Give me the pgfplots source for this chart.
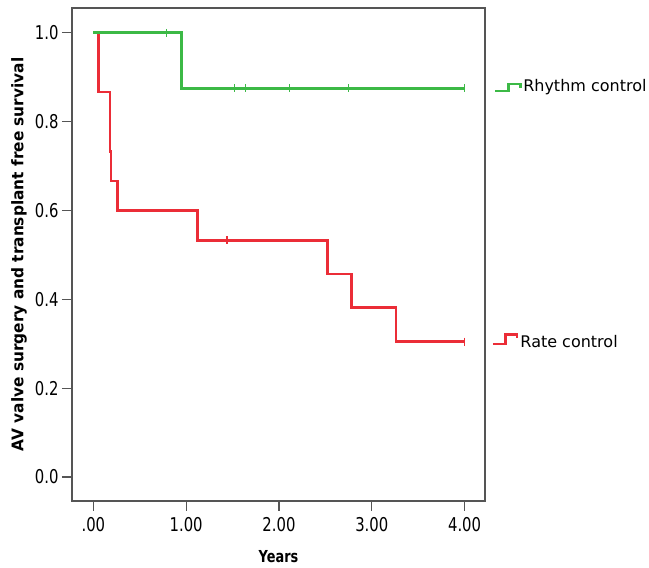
\documentclass[border=0pt]{standalone}
\usepackage{fontspec}
\setmainfont{DejaVu Sans}
\newfontfamily\tickf[FakeStretch=0.78]{DejaVu Sans}
\newfontfamily\ylabf[FakeStretch=0.96]{DejaVu Sans}
\newfontfamily\xlabf[FakeStretch=0.78]{DejaVu Sans}
\newfontfamily\legf{DejaVu Sans}
\usepackage{pgfplots}
\pgfplotsset{compat=1.18}
\definecolor{kmgreen}{RGB}{60,185,70}
\definecolor{kmred}{RGB}{235,45,55}
\definecolor{axgray}{RGB}{85,85,85}
\begin{document}
\begin{tikzpicture}
\path[use as bounding box] (-72pt,-67pt) rectangle (577pt,501pt);
\begin{axis}[
  at={(0,0)}, anchor=south west,
  scale only axis, width=413pt, height=493pt,
  xmin=-0.23, xmax=4.22, ymin=-0.054, ymax=1.056,
  axis line style={axgray, line width=1.2pt},
  xtick={0,1,2,3,4}, xticklabels={.00,1.00,2.00,3.00,4.00},
  ytick={0,0.2,0.4,0.6,0.8,1.0}, yticklabels={0.0,0.2,0.4,0.6,0.8,1.0},
  xtick pos=bottom, ytick pos=left, tick align=outside,
  major tick length=10pt,
  tick style={axgray, line width=1.2pt},
  xticklabel style={font=\tickf\fontsize{19}{19}\selectfont, yshift=-3pt},
  yticklabel style={font=\tickf\fontsize{19}{19}\selectfont},
  clip=false,
  xlabel={Years},
  xlabel style={font=\xlabf\bfseries\fontsize{16.5}{16.5}\selectfont, at={(axis description cs:0.5,-0.1136)}, anchor=center},
  ylabel={AV valve surgery and transplant free survival},
  ylabel style={font=\ylabf\bfseries\fontsize{16}{16}\selectfont, at={(axis description cs:-0.128,0.5)}, anchor=center},
]
% Rate control (red)
\addplot[kmred, line width=2.8pt, const plot] coordinates {
  (0,1) (0.054,0.8667) (0.18,0.7333) (0.19,0.6667) (0.26,0.6)
  (1.12,0.5333) (2.52,0.4571) (2.78,0.381) (3.26,0.3048) (4.0,0.3048)};
\addplot[kmred, only marks, mark=|, mark size=4pt, mark options={line width=1.2pt}] coordinates {
  (1.44,0.5333) (4.0,0.3048)};
% Rhythm control (green)
\addplot[kmgreen, line width=2.8pt, const plot] coordinates {
  (0,1) (0.95,0.875) (4.0,0.875)};
\addplot[kmgreen, only marks, mark=|, mark size=4pt, mark options={line width=1.2pt}] coordinates {
  (0.79,1) (1.52,0.875) (1.64,0.875) (2.11,0.875) (2.75,0.875) (4.0,0.875)};
% legend symbols
\addplot[kmgreen, line width=2.5pt] coordinates {
  (4.33,0.869) (4.475,0.869) (4.475,0.885) (4.60,0.885) (4.60,0.876)};
\addplot[kmred, line width=2.5pt] coordinates {
  (4.306,0.2995) (4.44,0.2995) (4.44,0.321) (4.565,0.321) (4.565,0.313)};
\node[anchor=west, inner sep=0pt, font=\legf\fontsize{16}{16}\selectfont] at (axis cs:4.63,0.877) {Rhythm control};
\node[anchor=west, inner sep=0pt, font=\legf\fontsize{16}{16}\selectfont] at (axis cs:4.60,0.306) {Rate control};
\end{axis}
\end{tikzpicture}
\end{document}
